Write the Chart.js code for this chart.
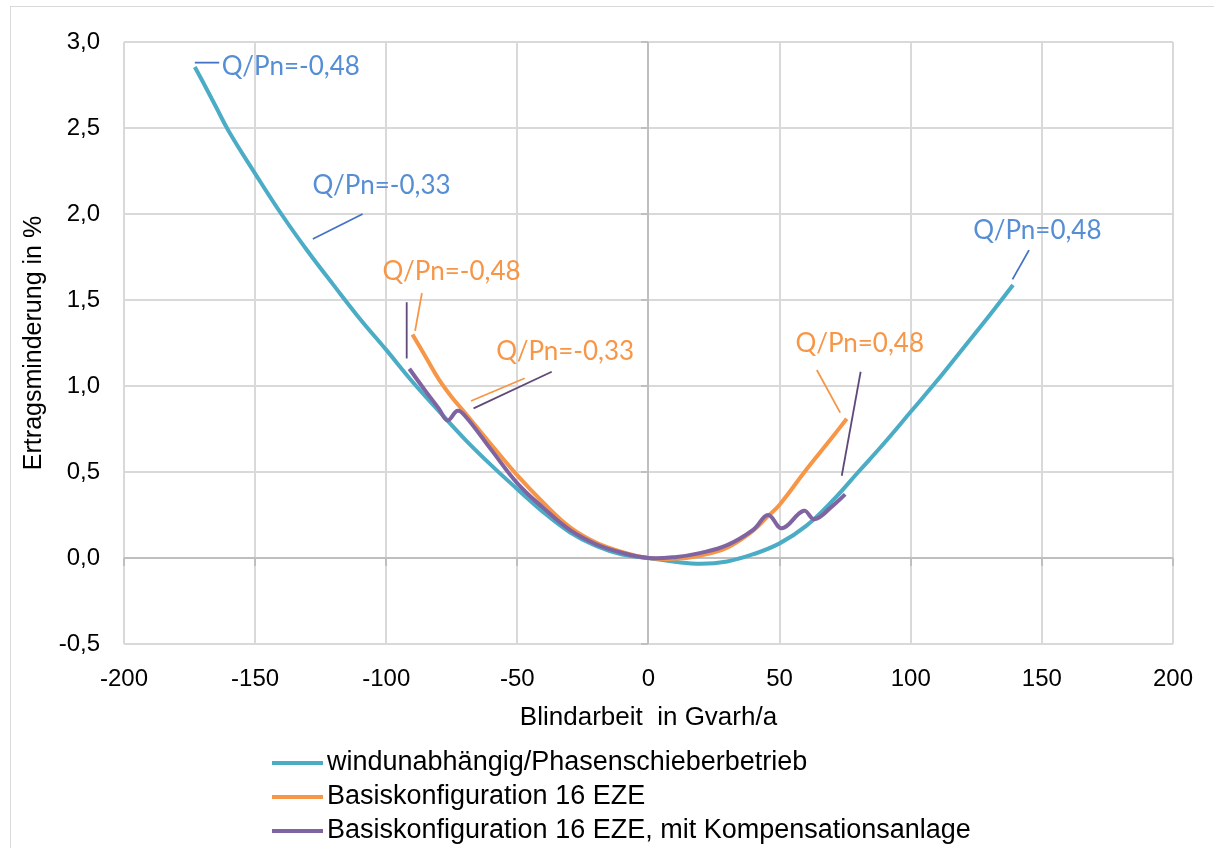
<!DOCTYPE html>
<html>
<head>
<meta charset="utf-8">
<script src="https://cdn.jsdelivr.net/npm/chart.js@4.4.1/dist/chart.umd.min.js"></script>
<style>
  html, body { margin: 0; padding: 0; background: #fff; }
  #wrap { width: 1214px; height: 848px; }
</style>
</head>
<body>
<div id="wrap"><canvas id="chart" width="1214" height="848"></canvas></div>
<script>
// series values (x: Gvarh/a, y: %)
const windX = [-173, -170, -165, -160, -150, -140, -130, -120, -110, -100, -90, -80, -70, -60, -50, -40, -30, -20, -10, 0, 10, 20, 30, 40, 50, 60, 70, 80, 90, 100, 110, 120, 130, 139];
const windY = [2.855, 2.77, 2.625, 2.48, 2.235, 2.0, 1.785, 1.585, 1.39, 1.21, 1.025, 0.855, 0.69, 0.54, 0.40, 0.265, 0.15, 0.07, 0.02, 0, -0.022, -0.034, -0.02, 0.022, 0.085, 0.185, 0.33, 0.50, 0.67, 0.85, 1.03, 1.22, 1.41, 1.587];

const baseX = [-90, -85, -80, -75, -70, -60, -50, -40, -30, -20, -10, 0, 10, 20, 30, 40, 45, 50, 60, 70, 75.6];
const baseY = [1.30, 1.17, 1.04, 0.935, 0.845, 0.66, 0.48, 0.32, 0.18, 0.09, 0.035, 0, -0.005, 0.015, 0.06, 0.16, 0.235, 0.31, 0.51, 0.70, 0.81];

const kompX = [-91.2, -85, -80, -76.6, -72.8, -69.6, -60, -50, -40, -30, -20, -10, 0, 10, 20, 30, 40, 45.6, 50.9, 59.2, 63.3, 70, 75];
const kompY = [1.10, 0.97, 0.87, 0.80, 0.856, 0.82, 0.63, 0.434, 0.29, 0.163, 0.08, 0.03, 0, 0.005, 0.03, 0.075, 0.165, 0.25, 0.173, 0.275, 0.225, 0.30, 0.37];

const seriesNames = [
  "windunabhängig/Phasenschieberbetrieb",
  "Basiskonfiguration 16 EZE",
  "Basiskonfiguration 16 EZE, mit Kompensationsanlage",
];

// axis ticks
const xMin = -200, xMax = 200, xStep = 50;
const yMin = -0.5, yMax = 3.0, yStep = 0.5;
const xTitle = "Blindarbeit  in Gvarh/a";
const yTitle = "Ertragsminderung in %";

// data labels (anchor in data units, series index)
const noteText = ["Q/Pn=-0,48", "Q/Pn=-0,33", "Q/Pn=0,48", "Q/Pn=-0,48", "Q/Pn=-0,33", "Q/Pn=0,48"];
const noteX = [-162.7, -128.1, 123.8, -101.4, -58.1, 56.1];
const noteY = [2.855, 2.163, 1.901, 1.663, 1.198, 1.244];
const noteSeries = [0, 0, 0, 1, 1, 1];

// leader lines for the labels
const leadX1 = [-173.0, -128.0, 138.8, -89.0, -92.2, -67.7, -66.7, 64.2, 73.7];
const leadY1 = [2.88, 1.855, 1.62, 1.32, 1.16, 0.913, 0.870, 1.093, 0.478];
const leadX2 = [-163.7, -109.0, 145.1, -86.4, -92.2, -47.2, -36.9, 73.1, 80.9];
const leadY2 = [2.88, 2.0, 1.79, 1.54, 1.487, 1.045, 1.083, 0.845, 1.083];
const leadSeries = [0, 0, 0, 1, 2, 1, 2, 1, 2];

const lineColors = ["#4BACC6", "#F79646", "#8064A2"];
const noteColors = ["#558ED5", "#F79646", "#8064A2"];
const leadColors = ["#4472C4", "#F79646", "#5F497A"];

function qs(id) { return document.getElementById(id); }

function points(xs, ys) {
  return xs.map((x, i) => ({ x, y: ys[i] }));
}

function fmtComma(v) {
  return Number(v).toFixed(1).replace(".", ",");
}

const framePlugin = {
  id: "frame",
  beforeDraw(chart) {
    const ctx = chart.ctx;
    ctx.save();
    ctx.fillStyle = "#fff";
    ctx.fillRect(0, 0, chart.width, chart.height);
    ctx.strokeStyle = "#d9d9d9";
    ctx.lineWidth = 1;
    ctx.strokeRect(10.5, 6.5, chart.width + 20, chart.height + 20);
    ctx.restore();
  },
};

// axis lines through zero with outside tick marks
const zeroAxesPlugin = {
  id: "zeroAxes",
  beforeDatasetsDraw(chart) {
    const { ctx, chartArea: a, scales: { x, y } } = chart;
    const x0 = Math.round(x.getPixelForValue(0));
    const y0 = Math.round(y.getPixelForValue(0));
    ctx.save();
    ctx.strokeStyle = "#bfbfbf";
    ctx.lineWidth = 2;
    ctx.beginPath();
    ctx.moveTo(x0, a.top); ctx.lineTo(x0, a.bottom);
    ctx.moveTo(a.left, y0); ctx.lineTo(a.right, y0);
    for (let v = yMin; v <= yMax + 1e-9; v += yStep) {
      const py = Math.round(y.getPixelForValue(v));
      ctx.moveTo(x0 - 7, py); ctx.lineTo(x0, py);
    }
    for (let v = xMin; v <= xMax; v += xStep) {
      const px = Math.round(x.getPixelForValue(v));
      ctx.moveTo(px, y0); ctx.lineTo(px, y0 + 8);
    }
    ctx.stroke();
    ctx.restore();
  },
};

const notesPlugin = {
  id: "notes",
  afterDatasetsDraw(chart) {
    const { ctx, scales: { x, y } } = chart;
    ctx.save();
    ctx.lineWidth = 1.8;
    leadX1.forEach((_, i) => {
      ctx.strokeStyle = leadColors[leadSeries[i]];
      ctx.beginPath();
      ctx.moveTo(x.getPixelForValue(leadX1[i]), y.getPixelForValue(leadY1[i]));
      ctx.lineTo(x.getPixelForValue(leadX2[i]), y.getPixelForValue(leadY2[i]));
      ctx.stroke();
    });
    ctx.font = "26px Lato";
    ctx.textAlign = "left";
    ctx.textBaseline = "middle";
    noteText.forEach((t, i) => {
      ctx.fillStyle = noteColors[noteSeries[i]];
      ctx.fillText(t, x.getPixelForValue(noteX[i]), y.getPixelForValue(noteY[i]));
    });
    ctx.restore();
  },
};

const legendPlugin = {
  id: "bottomLegend",
  afterDraw(chart) {
    const ctx = chart.ctx;
    ctx.save();
    ctx.font = "27px 'Liberation Sans'";
    ctx.textAlign = "left";
    ctx.textBaseline = "middle";
    chart.data.datasets.forEach((ds, i) => {
      const yy = 763 + i * 34;
      ctx.strokeStyle = ds.borderColor;
      ctx.lineWidth = 4;
      ctx.beginPath();
      ctx.moveTo(272, yy);
      ctx.lineTo(323, yy);
      ctx.stroke();
      ctx.fillStyle = "#000";
      ctx.fillText(ds.label, 327, yy);
    });
    ctx.restore();
  },
};

const lineData = [points(windX, windY), points(baseX, baseY), points(kompX, kompY)];

new Chart(qs("chart").getContext("2d"), {
  type: "scatter",
  data: {
    datasets: lineData.map((d, i) => ({
      label: seriesNames[i],
      data: d,
      showLine: true,
      borderColor: lineColors[i],
      backgroundColor: lineColors[i],
      borderWidth: 4,
      pointRadius: 0,
      tension: 0.4,
      order: 3 - i,
    })),
  },
  options: {
    responsive: false,
    animation: false,
    layout: { padding: { left: 0, top: 42, right: 39, bottom: 114 } },
    plugins: { legend: { display: false }, tooltip: { enabled: false } },
    scales: {
      x: {
        type: "linear",
        min: xMin, max: xMax,
        afterFit: (s) => { s.height = 90; },
        grid: { color: "#d9d9d9", lineWidth: 2, drawTicks: false },
        border: { display: false },
        ticks: {
          stepSize: xStep, padding: 21, color: "#000",
          font: { family: "'Liberation Sans'", size: 24 },
        },
        title: {
          display: true, text: xTitle, color: "#000",
          font: { family: "'Liberation Sans'", size: 26 },
          padding: { top: 0, bottom: 1 },
        },
      },
      y: {
        type: "linear",
        min: yMin, max: yMax,
        afterFit: (s) => { s.width = 124; },
        grid: { color: "#d9d9d9", lineWidth: 2, drawTicks: false },
        border: { display: false },
        ticks: {
          stepSize: yStep, padding: 24, color: "#000",
          font: { family: "'Liberation Sans'", size: 24 },
          callback: (v) => fmtComma(v),
        },
        title: {
          display: true, text: yTitle, color: "#000",
          font: { family: "'Liberation Sans'", size: 25 },
          padding: { top: 19, bottom: 0 },
        },
      },
    },
  },
  plugins: [framePlugin, zeroAxesPlugin, notesPlugin, legendPlugin],
});
</script>
</body>
</html>
